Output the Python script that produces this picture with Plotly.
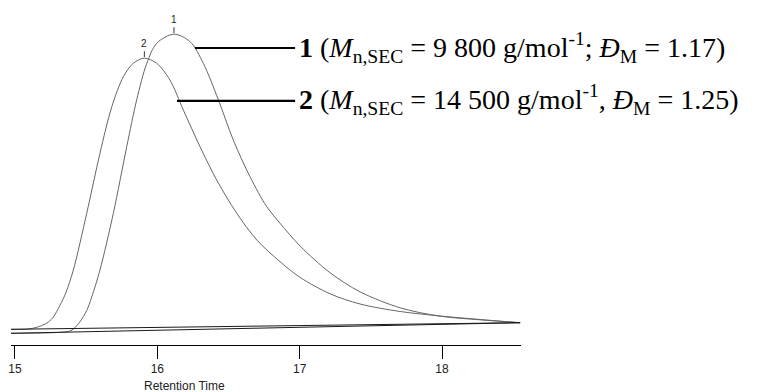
import plotly.graph_objects as go

# SEC traces: retention time (min) vs detector response (a.u.)
rt_1 = [14.972, 15.337, 15.386, 15.415, 15.457, 15.504, 15.539, 15.597, 15.691,
        15.785, 15.855, 15.926, 15.996, 16.117, 16.230, 16.323, 16.429, 16.534,
        16.651, 16.769, 16.862, 17.003, 17.214, 17.424, 17.706, 17.987, 18.268,
        18.549]
resp_1 = [3.9, 4.27, 4.67, 5.5, 7.8, 11.5, 16.0, 25.0, 43.9,
          66.1, 81.7, 93.9, 100.6, 103.6, 101.1, 93.9, 81.7, 68.3,
          56.1, 46.1, 40.6, 33.0, 24.07, 17.73, 12.4, 9.6, 8.4,
          7.43]

rt_2 = [14.972, 15.091, 15.148, 15.197, 15.225, 15.267, 15.316, 15.358, 15.410,
        15.504, 15.597, 15.680, 15.761, 15.831, 15.909, 15.996, 16.089, 16.183,
        16.300, 16.417, 16.558, 16.699, 16.862, 17.003, 17.214, 17.424, 17.706,
        17.987, 18.268, 18.549]
resp_2 = [5.23, 5.31, 5.83, 6.67, 7.33, 9.17, 13.2, 17.5, 25.0,
          43.9, 63.9, 79.4, 89.4, 93.9, 95.6, 93.9, 88.3, 78.3,
          66.1, 55.0, 43.9, 35.0, 27.77, 22.53, 17.07, 13.67, 11.17,
          9.67, 8.5, 7.43]

# integration baselines (start, end)
base_rt = [14.972, 18.549]
base_1 = [3.9, 7.43]
base_2 = [5.23, 7.43]

peak_names = ["1", "2"]
legend_texts = [
    "<b>1</b> (<i>M</i><sub>n,SEC</sub> = 9 800 g/mol<sup>-1</sup>; <i>Đ</i><sub>M</sub> = 1.17)",
    "<b>2</b> (<i>M</i><sub>n,SEC</sub> = 14 500 g/mol<sup>-1</sup>, <i>Đ</i><sub>M</sub> = 1.25)",
]
# leader line start points on each trace and common end
leader_start = [(16.265, 99.0), (16.138, 81.4)]
leader_end_rt = 16.968

x_ticks = [15, 16, 17, 18]

trace_color = "#666666"
fig = go.Figure()
for rt, resp in [(rt_1, resp_1), (rt_2, resp_2)]:
    fig.add_trace(go.Scatter(x=rt, y=resp, mode="lines",
                             line=dict(color=trace_color, width=1, shape="spline", smoothing=0.9),
                             hoverinfo="skip"))
for b in [base_1, base_2]:
    fig.add_trace(go.Scatter(x=base_rt, y=b, mode="lines",
                             line=dict(color="#1a1a1a", width=1), hoverinfo="skip"))

# peak apex markers with labels
for name, rt, resp in zip(peak_names, [rt_1, rt_2], [resp_1, resp_2]):
    i = resp.index(max(resp))
    px, py = rt[i], resp[i]
    fig.add_shape(type="line", x0=px, x1=px, y0=py + 0.4, y1=py + 2.3,
                  line=dict(color="#333", width=1))
    fig.add_annotation(x=px, y=py + 2.5, text=name, showarrow=False,
                       yanchor="bottom", xanchor="center",
                       font=dict(family="Liberation Sans", size=10, color="#222"))

# leader lines and sample descriptions
for (sx, sy), txt in zip(leader_start, legend_texts):
    fig.add_shape(type="line", x0=sx, x1=leader_end_rt, y0=sy, y1=sy,
                  line=dict(color="black", width=2.2))
    fig.add_annotation(x=leader_end_rt, y=sy, text=txt, showarrow=False,
                       xanchor="left", yanchor="middle", xshift=2, yshift=1,
                       font=dict(family="Liberation Serif", size=28, color="black"))

fig.add_annotation(x=16.191, y=-0.119, xref="x", yref="paper", text="Retention Time",
                   showarrow=False, xanchor="center", yanchor="middle",
                   font=dict(family="Liberation Sans", size=12, color="#222"))

fig.update_layout(
    width=757, height=392,
    margin=dict(l=11, r=236, t=0, b=47),
    paper_bgcolor="white", plot_bgcolor="white",
    showlegend=False,
    xaxis=dict(range=[14.972, 18.555], showgrid=False, zeroline=False,
               showline=True, linecolor="black", linewidth=1,
               ticks="outside", ticklen=13, tickcolor="black", tickwidth=1,
               tickvals=x_ticks, ticktext=[str(t) for t in x_ticks],
               tickfont=dict(family="Liberation Sans", size=12, color="#222")),
    yaxis=dict(range=[0, 115], visible=False),
)

fig.write_html("out.html")
